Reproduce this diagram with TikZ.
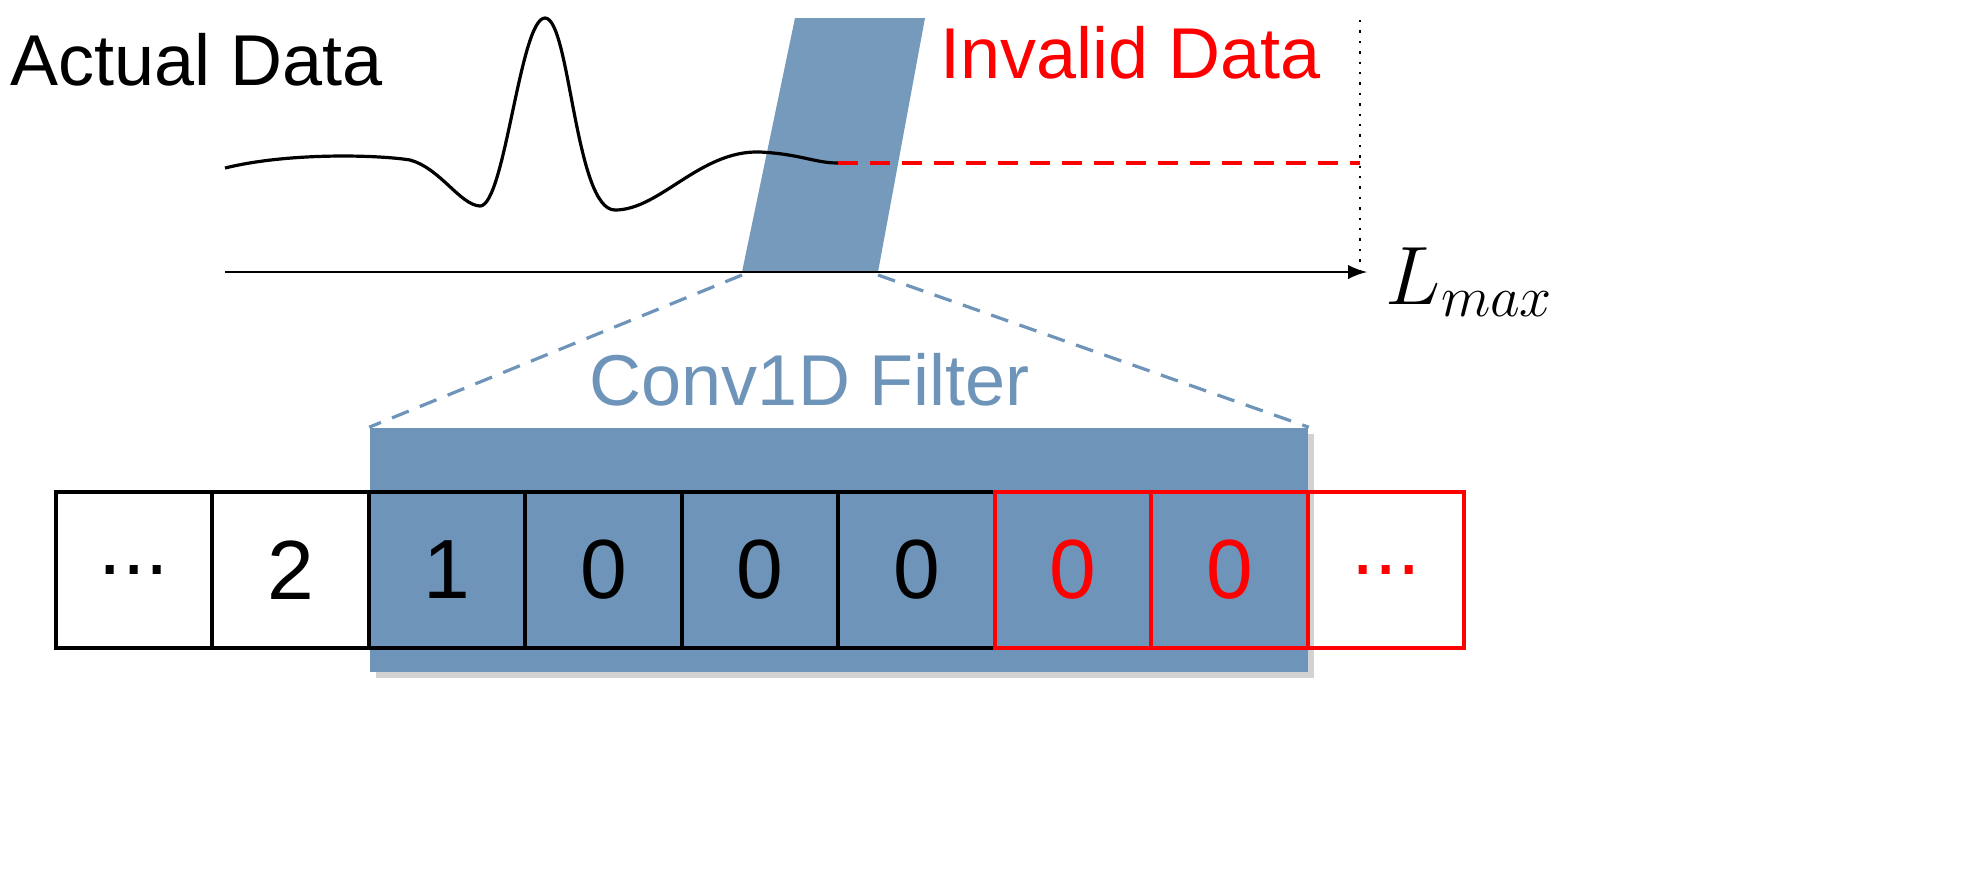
\documentclass[tikz,border=0pt]{standalone}
\usepackage{fontspec}
\setmainfont{Liberation Sans}
\usepackage{amsmath}
\usetikzlibrary{shadows}
\definecolor{fb}{HTML}{6E95B9}
\begin{document}
\begin{tikzpicture}[x=0.25pt,y=-0.25pt,
  cell/.style={draw,line width=0.8pt,minimum width=39pt,minimum height=39pt,inner sep=0pt,font=\fontsize{21}{22}\selectfont},
  blk/.style={cell,draw=black,text=black},
  rd/.style={cell,draw=red,text=red},
  lbl/.style={font=\fontsize{18}{20}\selectfont,anchor=base west,inner sep=0pt}]
\fill[white] (0,0) rectangle (1974,882);
% filter band
\fill[fb,opacity=0.95] (795,18) -- (925,18) -- (878,272) -- (742,272) -- cycle;
\coordinate (bl) at (742,275); \coordinate (br) at (878,275);
% curve
\draw[line width=0.8pt,black] (225,168) .. controls (290,152) and (380,155) .. (410,160)
  .. controls (440,168) and (460,205) .. (480,206)
  .. controls (505,206) and (520,18) .. (545,18)
  .. controls (570,18) and (575,210) .. (615,210)
  .. controls (660,210) and (700,150) .. (760,152)
  .. controls (800,154) and (815,163) .. (838,163) coordinate (ce);
\coordinate (re) at (1360,163);
\draw[red,line width=0.8pt,dash pattern=on 5pt off 3pt] (ce) -- (re);
\coordinate (dt) at (1360,20); \coordinate (db) at (1360,272);
\draw[dotted,line width=0.6pt] (dt) -- (db);
\coordinate (a0) at (225,272); \coordinate (a1) at (1367,272);
\draw[-latex,line width=0.65pt] (a0) -- (a1);
\node[anchor=west,inner sep=0pt,font=\fontsize{20}{22}\selectfont] (lm) at (1385,282) {$L_{max}$};
\node[lbl] (ad) at (10,85) {Actual Data};
\node[lbl,text=red] (id) at (940,78) {Invalid Data};
% filter box
\node[fill=fb,minimum width=234.5pt,minimum height=61pt,inner sep=0pt,drop shadow={opacity=0.35,shadow xshift=1.5pt,shadow yshift=-1.5pt}] (fr) at (839,550) {};
\draw[fb,line width=0.8pt,dash pattern=on 4.5pt off 3pt] (bl) -- (fr.north west);
\draw[fb,line width=0.8pt,dash pattern=on 4.5pt off 3pt] (br) -- (fr.north east);
\node[lbl,text=fb,anchor=base] (cf) at (810,405) {Conv1D Filter};
% cells
\foreach \i/\t/\st in {0/{...}/blk,1/2/blk,2/1/blk,3/0/blk,4/0/blk,5/0/blk,6/0/rd,7/0/rd,8/{...}/rd}{
  \node[\st] (c\i) at ({134+\i*156.5},570) {\t};
}
\pgfresetboundingbox
\useasboundingbox (0,0) rectangle (1974,882);
\end{tikzpicture}
\end{document}
